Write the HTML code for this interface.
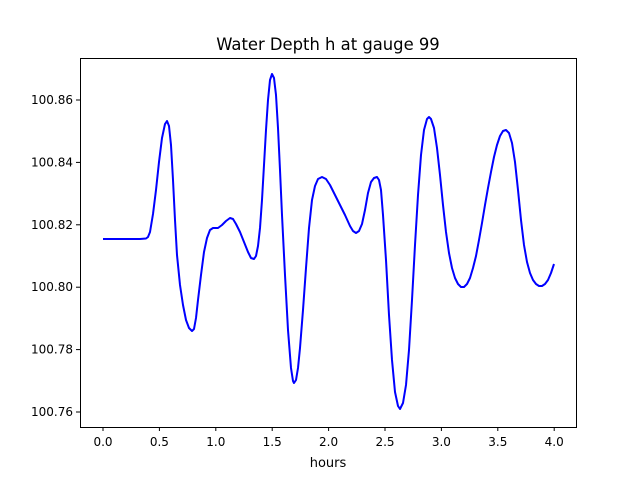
<!DOCTYPE html>
<html><head><style>body{margin:0;background:#fff}svg{display:block}text{font-family:"DejaVu Sans","Liberation Sans",sans-serif;fill:#000}</style></head>
<body>
<svg width="640" height="480" viewBox="0 0 640 480">
<rect width="640" height="480" fill="#fff"/>
<text x="328" y="50" font-size="16.4" text-anchor="middle">Water Depth h at gauge 99</text>
<polyline fill="none" stroke="#0000ff" stroke-width="2" stroke-linejoin="round" points="103,239 140,239 146,238.5 148,237 150,232 153,214 156,190 159,162 162,138 165,124 167,121 169,126 171,145 173,180 175,220 177,255 180,285 183,305 186,320 189,328 192,331 194,329 196,318 198,300 201,275 204,252 207,238 210,230 213,228 218,228 222,225 226,221 230,218 233,219 236,224 240,232 244,242 248,252 251,258 254,259 256,256 258,246 260,228 262,200 264,165 266,130 268,100 270,80 272,74 274,78 276,95 278,128 280,170 282,215 285,275 288,330 291,368 293,381 294,383 296,380 298,368 300,348 303,310 306,268 309,228 312,200 315,186 318,179 322,177 326,179 330,185 335,195 340,205 345,215 350,226 353,231 356,233 359,231 362,224 365,210 368,193 371,182 374,178 377,177 379,180 381,190 383,215 386,260 389,315 392,360 395,392 398,406 400,409 403,403 406,385 409,350 412,300 415,245 418,195 421,155 424,130 427,119 429,117 431,119 434,128 437,148 440,175 443,205 446,232 449,253 452,268 455,278 458,284 461,287 464,287 467,284 470,278 473,268 476,256 479,240 482,223 485,205 488,188 491,172 494,157 497,145 500,136 503,131 506,130 509,133 512,143 515,162 518,190 521,220 524,245 527,262 530,273 533,280 536,284 539,286 542,286 545,284 548,280 551,273 554,264"/>
<rect x="80.5" y="58.5" width="496" height="369" fill="none" stroke="#000" stroke-width="1"/>
<g stroke="#000">
<line x1="103" y1="427" x2="103" y2="431"/><line x1="159.4" y1="427" x2="159.4" y2="431"/><line x1="215.8" y1="427" x2="215.8" y2="431"/><line x1="272.2" y1="427" x2="272.2" y2="431"/><line x1="328.6" y1="427" x2="328.6" y2="431"/><line x1="385" y1="427" x2="385" y2="431"/><line x1="441.4" y1="427" x2="441.4" y2="431"/><line x1="497.8" y1="427" x2="497.8" y2="431"/><line x1="554.2" y1="427" x2="554.2" y2="431"/>
<line x1="76" y1="412" x2="80" y2="412"/><line x1="76" y1="349.6" x2="80" y2="349.6"/><line x1="76" y1="287.2" x2="80" y2="287.2"/><line x1="76" y1="224.8" x2="80" y2="224.8"/><line x1="76" y1="162.4" x2="80" y2="162.4"/><line x1="76" y1="100" x2="80" y2="100"/>
</g>
<g font-size="12" text-anchor="middle">
<text x="103" y="446">0.0</text><text x="159.4" y="446">0.5</text><text x="215.8" y="446">1.0</text><text x="272.2" y="446">1.5</text><text x="328.6" y="446">2.0</text><text x="385" y="446">2.5</text><text x="441.4" y="446">3.0</text><text x="497.8" y="446">3.5</text><text x="554.2" y="446">4.0</text>
<text x="328" y="467" font-size="13">hours</text>
</g>
<g font-size="12" text-anchor="end">
<text x="73" y="416">100.76</text><text x="73" y="353.6">100.78</text><text x="73" y="291.2">100.80</text><text x="73" y="228.8">100.82</text><text x="73" y="166.4">100.84</text><text x="73" y="104">100.86</text>
</g>
</svg>
</body></html>
